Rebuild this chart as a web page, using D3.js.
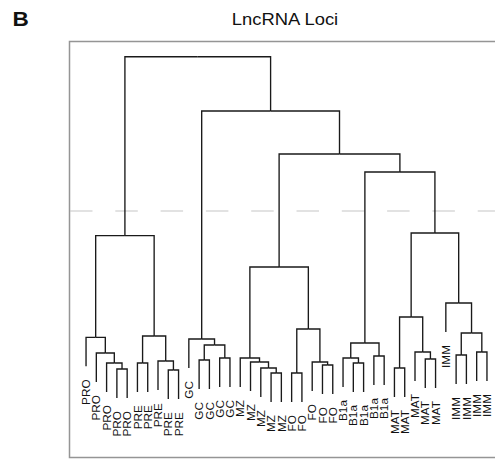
<!DOCTYPE html>
<html>
<head>
<meta charset="utf-8">
<script src="https://cdn.jsdelivr.net/npm/d3@7"></script>
<style>
  html, body { margin: 0; padding: 0; background: #fff; }
  svg { display: block; font-family: "Liberation Sans", Arial, Helvetica, sans-serif; }
</style>
</head>
<body>
<svg id="chart" width="495" height="459"></svg>
<script>
// Sample labels in leaf order (1-based indices are used by the merge table)
const labels = [
  "PRO", "PRO", "PRO", "PRO", "PRO",
  "PRE", "PRE", "PRE", "PRE", "PRE",
  "GC", "GC", "GC", "GC", "GC",
  "MZ", "MZ", "MZ", "MZ", "MZ",
  "FO", "FO", "FO", "FO", "FO",
  "B1a", "B1a", "B1a", "B1a", "B1a",
  "MAT", "MAT", "MAT", "MAT", "MAT",
  "IMM", "IMM", "IMM", "IMM", "IMM"
];

// hclust-style merge table: negative = leaf, positive = earlier merge row
const merge = [
  [-19, -20], [-21, -22], [-9, -10], [-4, -5], [-18, 1],
  [-31, -32], [-24, -25], [-3, 4], [-6, -7], [-27, -28],
  [-17, 5], [-23, 7], [-8, 3], [-12, -13], [-34, -35],
  [-14, -15], [-16, 11], [-26, 10], [-29, -30], [-37, -38],
  [-2, 8], [-33, 15], [-39, -40], [14, 16], [18, 19],
  [-11, 24], [-1, 21], [9, 13], [20, 23], [2, 12],
  [6, 22], [-36, 29], [17, 30], [27, 28], [31, 32],
  [25, 35], [33, 36], [26, 37], [34, 38]
];

// Merge heights, one per merge row
const heights = [
  0.051, 0.051, 0.060, 0.063, 0.066,
  0.066, 0.075, 0.081, 0.081, 0.081,
  0.084, 0.084, 0.087, 0.090, 0.093,
  0.096, 0.096, 0.096, 0.102, 0.105,
  0.111, 0.114, 0.114, 0.135, 0.141,
  0.153, 0.158, 0.162, 0.171, 0.183,
  0.219, 0.261, 0.369, 0.463, 0.471,
  0.654, 0.708, 0.837, 1.000
];

const cutHeight = 0.537;   // dashed cut line
const hang = 0.087;        // leaf drop below its merge

const title = "LncRNA Loci";
const panel = "B";

// ---- build tree ----
function build(ref) {
  if (ref < 0) return { name: labels[-ref - 1], leaf: true };
  const [a, b] = merge[ref - 1];
  return { h: heights[ref - 1], children: [build(a), build(b)] };
}
const root = d3.hierarchy(build(merge.length));
d3.cluster().separation(() => 1).size([1, 1])(root);
root.each(d => {
  d.h = d.data.leaf ? d.parent.data.h - hang : d.data.h;
});

const svg = d3.select("#chart");

const x = d3.scaleLinear().domain([0, 1]).range([80.9, 492.1]);
const y = d3.scaleLinear().domain([0, 1]).range([390, 56.7]);

// plot frame
svg.append("rect")
  .attr("x", 69.5).attr("y", 41.5)
  .attr("width", 440).attr("height", 416)
  .attr("fill", "none")
  .attr("stroke", "#959595")
  .attr("stroke-width", 1.5);

// cut line
svg.append("line")
  .attr("x1", 70).attr("x2", 495)
  .attr("y1", y(cutHeight)).attr("y2", y(cutHeight))
  .attr("stroke", "#c6c6c6")
  .attr("stroke-width", 1.2)
  .attr("stroke-dasharray", "22.5,22.8");

// dendrogram branches
svg.append("g")
  .selectAll("path")
  .data(root.descendants().filter(d => d.parent))
  .join("path")
  .attr("d", d => `M${x(d.x)},${y(d.h)}V${y(d.parent.h)}H${x(d.parent.x)}`)
  .attr("fill", "none")
  .attr("stroke", "#1a1a1a")
  .attr("stroke-width", 1.35);

// leaf labels
svg.append("g")
  .selectAll("text")
  .data(root.leaves())
  .join("text")
  .attr("transform", d => `translate(${x(d.x)},${y(d.h) + 13}) rotate(-90)`)
  .attr("text-anchor", "end")
  .attr("dy", "0.35em")
  .attr("font-size", 11.8)
  .attr("fill", "#111")
  .text(d => d.data.name);

// title
svg.append("text")
  .attr("transform", "translate(285,25) scale(1.13,1)")
  .attr("text-anchor", "middle")
  .attr("font-size", 16.3)
  .attr("fill", "#111")
  .text(title);

// panel letter
svg.append("text")
  .attr("transform", "translate(12.5,26) scale(1.13,1)")
  .attr("font-size", 20)
  .attr("font-weight", "bold")
  .attr("fill", "#111")
  .text(panel);
</script>
</body>
</html>
